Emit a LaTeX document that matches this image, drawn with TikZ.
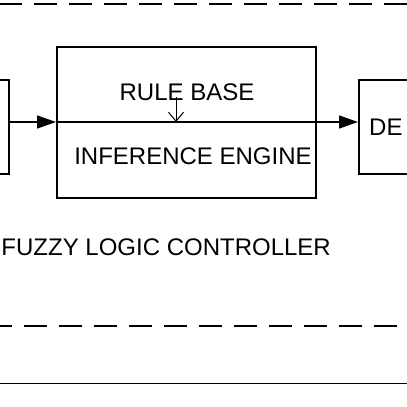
\documentclass[tikz,border=0pt]{standalone}
\usepackage{fontspec}
\setmainfont{Liberation Sans}
\usetikzlibrary{arrows.meta}
\begin{document}
\begin{tikzpicture}[x=1pt,y=-1pt,
    block/.style={draw,rectangle,line width=2pt},
    lbl/.style={font=\fontsize{24}{29}\selectfont,inner sep=0pt},
    arr/.style={-{Triangle[length=19pt,width=13pt]},line width=1.3pt},
    feed/.style={-{Straight Barb[length=9pt,width=15pt]},line width=1pt},
    dashline/.style={line width=1.5pt,dash pattern=on 23pt off 12pt}]
    \useasboundingbox (0,0) rectangle (407,407);
    \draw[dashline,dash phase=1pt] (0,4) -- (407,4);
    \draw[dashline,dash phase=11pt] (0,326) -- (407,326);
    \draw[line width=1.5pt] (0,383.5) -- (407,383.5);

    \node[block,minimum width=100pt,minimum height=94pt] (fuzz) at (-41,127) {};
    \node[block,minimum width=259pt,minimum height=151pt] (flc) at (186.5,122) {};
    \node[block,minimum width=100pt,minimum height=94pt] (defuzz) at (409,127) {};

    \node[lbl,anchor=base] (rule) at (187,100) {RULE BASE};
    \node[lbl,anchor=base] (engine) at (193,164) {INFERENCE ENGINE};
    \node[lbl,anchor=base west] (de) at (369,135) {DE};
    \node[lbl,anchor=base east] (ctrl) at (331,255) {FUZZY LOGIC CONTROLLER};
    \coordinate (rbout) at (176,97);

    \draw (fuzz.east |- flc.west) edge[arr] (flc.west)
          (flc.west) edge[line width=1.3pt] (flc.east)
          (flc.east) edge[arr] (defuzz.west |- flc.east)
          (rbout) edge[feed] (rbout |- flc.center);
  \end{tikzpicture}
\end{document}
